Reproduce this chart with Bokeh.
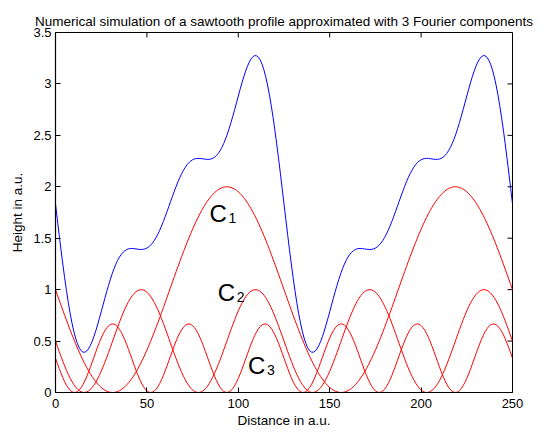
import numpy as np
from bokeh.plotting import figure
from bokeh.models import Range1d, FixedTicker, ColumnDataSource
from bokeh.core.properties import value
from bokeh.embed import file_html
from bokeh.resources import INLINE

# ---- data ----
# Fourier components of the sawtooth: harmonic number, amplitude, mean level
harmonics = [1, 2, 3]
amplitudes = [1.0, 0.5, 1.0 / 3.0]
mean_levels = [1.0, 0.5, 1.0 / 3.0]
wavelength = 125.0          # period of the fundamental (a.u.)
x_start, x_end = 0.0, 250.0
n_samples = 251

x_ticks = [0, 50, 100, 150, 200, 250]
y_ticks = [0, 0.5, 1, 1.5, 2, 2.5, 3, 3.5]

labels_main = ["C", "C", "C"]
labels_sub = ["1", "2", "3"]

title_text = "Numerical simulation of a sawtooth profile approximated with 3 Fourier components"
x_label = "Distance in a.u."
y_label = "Height in a.u."

# ---- build the curves from the components ----
x = np.linspace(x_start, x_end, n_samples)
components = []
for n, a, m in zip(harmonics, amplitudes, mean_levels):
    components.append(m - a * np.sin(2 * np.pi * n * x / wavelength))
profile = np.sum(components, axis=0)

FONT = "Liberation Sans"

p = figure(width=544, height=436, output_backend="svg", toolbar_location=None,
           x_range=Range1d(x_start, x_end), y_range=Range1d(y_ticks[0], y_ticks[-1]),
           min_border_left=55, min_border_right=32, min_border_top=32, min_border_bottom=44,
           background_fill_color="white", border_fill_color="white")

p.title.text = title_text
p.title.text_font = FONT
p.title.text_font_size = "13.5px"
p.title.text_font_style = "normal"
p.title.align = "center"
p.title.vertical_align = "top"
p.title.text_color = "black"
p.title.standoff = 4

p.xgrid.visible = False
p.ygrid.visible = False
p.outline_line_color = "black"
p.outline_line_width = 1

for ax in (p.xaxis[0], p.yaxis[0]):
    ax.major_tick_in = 5
    ax.major_tick_out = 0
    ax.minor_tick_in = 0
    ax.minor_tick_out = 0
    ax.axis_line_color = "black"
    ax.axis_line_width = 1.2
    ax.major_tick_line_color = "black"
    ax.major_label_text_font = FONT
    ax.major_label_text_font_size = "13px"
    ax.major_label_text_color = "black"
    ax.axis_label_text_font = FONT
    ax.axis_label_text_font_size = "13.5px"
    ax.axis_label_text_font_style = "normal"
    ax.axis_label_text_color = "black"

p.xaxis[0].ticker = FixedTicker(ticks=x_ticks)
p.yaxis[0].ticker = FixedTicker(ticks=y_ticks)
p.xaxis[0].axis_label = x_label
p.yaxis[0].axis_label = y_label
p.xaxis[0].major_label_standoff = 6
p.xaxis[0].axis_label_standoff = 2
p.yaxis[0].major_label_standoff = 4
p.yaxis[0].axis_label_standoff = 5
p.yaxis[0].major_label_overrides = {0: "0", 1: "1", 2: "2", 3: "3"}

# inward ticks on the top and right sides of the box
p.ray(x=x_ticks, y=[y_ticks[-1]] * len(x_ticks), length=5, length_units="screen",
      angle=-np.pi / 2, line_color="black", line_width=1)
p.ray(x=[x_end] * len(y_ticks), y=y_ticks, length=5, length_units="screen",
      angle=np.pi, line_color="black", line_width=1)

for comp in components:
    p.line(x, comp, line_color="#ff0000", line_width=1)
p.line(x, profile, line_color="#0000ff", line_width=1)

# component labels
lab_x = [84.3, 88.8, 105.3]
lab_y = [1.74, 0.968, 0.259]
src = ColumnDataSource(dict(x=lab_x, y=lab_y, t=labels_main, s=labels_sub))
p.text(x="x", y="y", text="t", source=src, text_font=value(FONT), text_font_size="24px",
       text_color="black", text_align="left", text_baseline="alphabetic")
p.text(x="x", y="y", text="s", source=src, text_font=value(FONT), text_font_size="14px",
       text_color="black", text_align="left", text_baseline="alphabetic",
       x_offset=19, y_offset=4)

open("out.html", "w").write(file_html(p, INLINE))
